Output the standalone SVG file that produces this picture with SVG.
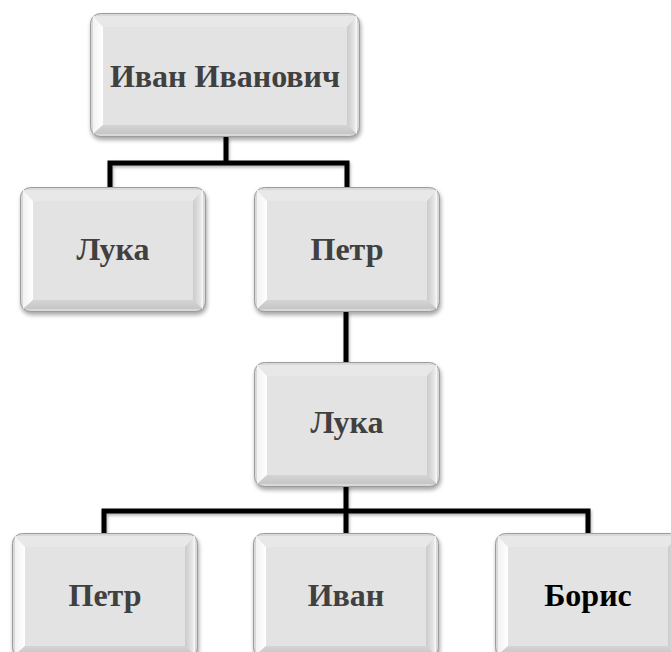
<svg xmlns="http://www.w3.org/2000/svg" xmlns:xlink="http://www.w3.org/1999/xlink" width="671" height="652" viewBox="0 0 671 652">
<style>
.lbl{font-family:"Liberation Serif","Times New Roman",serif;font-weight:bold;font-size:32px;fill:#404040;text-anchor:middle}
.conn{fill:none;stroke:#000;stroke-width:5;stroke-linejoin:miter;stroke-linecap:butt}
.outer{fill:#d9d9d9;stroke:#9c9c9c;stroke-width:1}
.face{fill:#e3e3e3}
.bt{fill:#e8e8e8}
.bl{fill:url(#gl)}
.br{fill:url(#gr)}
.bb{fill:url(#gb)}
.shd{fill:#000;opacity:.35}
</style>
<defs>
<filter id="blur" x="-10%" y="-10%" width="120%" height="130%"><feGaussianBlur stdDeviation="2.2"/></filter>
<filter id="lshd" x="-10%" y="-10%" width="120%" height="130%"><feDropShadow dx="1" dy="2" stdDeviation="1.5" flood-opacity="0.3"/></filter>
<linearGradient id="gl" x1="0" y1="0" x2="1" y2="0"><stop offset="0" stop-color="#f2f2f2"/><stop offset="1" stop-color="#ffffff"/></linearGradient>
<linearGradient id="gr" x1="0" y1="0" x2="1" y2="0"><stop offset="0" stop-color="#cbcbcb"/><stop offset="0.7" stop-color="#e4e4e4"/><stop offset="1" stop-color="#fafafa"/></linearGradient>
<linearGradient id="gb" x1="0" y1="0" x2="0" y2="1"><stop offset="0" stop-color="#d4d4d4"/><stop offset="1" stop-color="#c6c6c6"/></linearGradient>
<g id="box186">
<rect class="shd" x="1" y="3" width="186" height="125" rx="10" filter="url(#blur)"/>
<rect class="outer" x="0.5" y="0.5" width="185" height="124" rx="10"/>
<polygon class="bt" points="3,3 183,3 173,14 13,14"/>
<polygon class="bl" points="3,3 13,14 13,113 3,122"/>
<polygon class="br" points="183,3 183,122 173,113 173,14"/>
<polygon class="bb" points="3,122 13,113 173,113 183,122"/>
<rect class="face" x="13" y="14" width="160" height="99"/>
</g>
<g id="box270">
<rect class="shd" x="1" y="3" width="270" height="124" rx="10" filter="url(#blur)"/>
<rect class="outer" x="0.5" y="0.5" width="269" height="123" rx="10"/>
<polygon class="bt" points="3,3 267,3 257,14 13,14"/>
<polygon class="bl" points="3,3 13,14 13,112 3,121"/>
<polygon class="br" points="267,3 267,121 257,112 257,14"/>
<polygon class="bb" points="3,121 13,112 257,112 267,121"/>
<rect class="face" x="13" y="14" width="244" height="98"/>
</g>
</defs>
<rect width="671" height="652" fill="#fff"/>
<g id="connectors" filter="url(#lshd)">
<path class="conn" d="M226,137 V163"/>
<path class="conn" d="M110,187 V163 H347 V187"/>
<path class="conn" d="M346,312 V362"/>
<path class="conn" d="M346,485 V511"/>
<path class="conn" d="M104,533 V511 H588 V533"/>
<path class="conn" d="M346,511 V533"/>
</g>
<g id="n1" transform="translate(90,13)"><use xlink:href="#box270"/><text class="lbl" x="135" y="74">Иван Иванович</text></g>
<g id="n2" transform="translate(20,187)"><use xlink:href="#box186"/><text class="lbl" x="93" y="73">Лука</text></g>
<g id="n3" transform="translate(254,187)"><use xlink:href="#box186"/><text class="lbl" x="93" y="73">Петр</text></g>
<g id="n4" transform="translate(254,362)"><use xlink:href="#box186"/><text class="lbl" x="93" y="71">Лука</text></g>
<g id="n5" transform="translate(12,533)"><use xlink:href="#box186"/><text class="lbl" x="93" y="73">Петр</text></g>
<g id="n6" transform="translate(253,533)"><use xlink:href="#box186"/><text class="lbl" x="93" y="73">Иван</text></g>
<g id="n7" transform="translate(495,533)"><use xlink:href="#box186"/><text class="lbl" x="93" y="73" style="fill:#000">Борис</text></g>
</svg>
